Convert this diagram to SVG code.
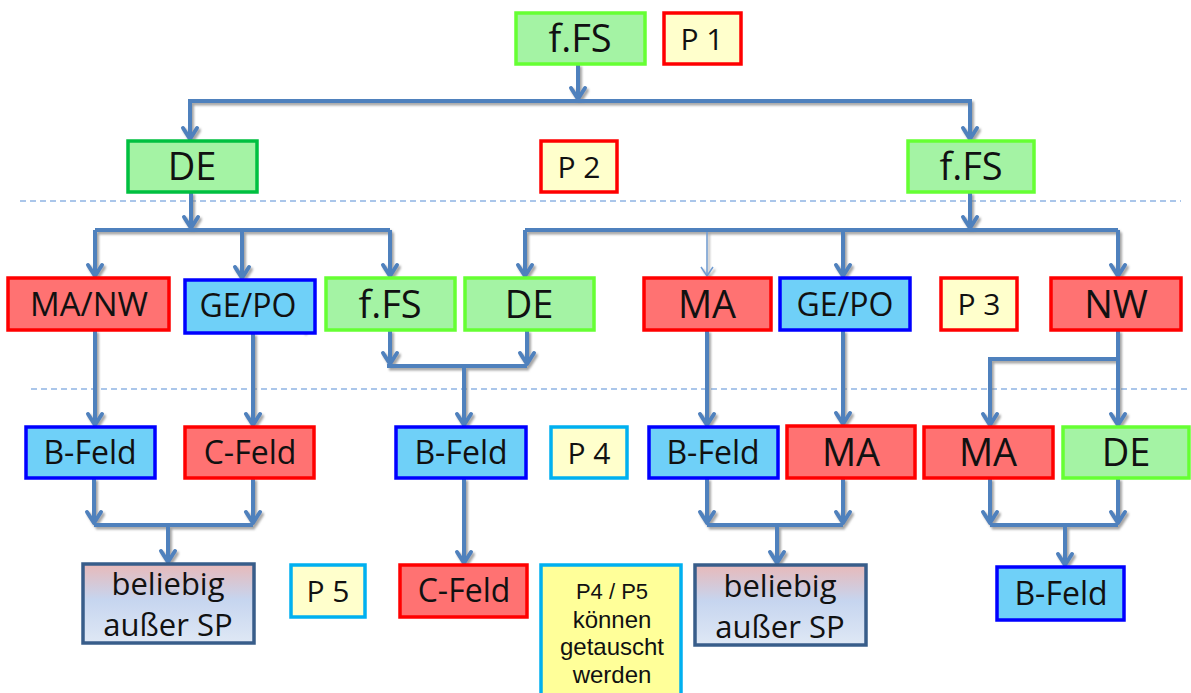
<svg xmlns="http://www.w3.org/2000/svg" width="1191" height="693" viewBox="0 0 1191 693">
<defs>
<style>
.t{font-family:"Open Sans","Noto Sans","Liberation Sans",sans-serif;fill:#111;text-anchor:middle}
.tn{font-family:"Liberation Sans","Open Sans",sans-serif;fill:#111;text-anchor:middle}
.g{fill:#a4f3a4;stroke:#66ff33;stroke-width:3.5}
.gd{fill:#a4f3a4;stroke:#00c040;stroke-width:3.5}
.r{fill:#ff7272;stroke:#ff0000;stroke-width:3.5}
.b{fill:#6fd0f8;stroke:#0000ff;stroke-width:3.5}
.py{fill:#ffffcc;stroke:#ff0000;stroke-width:3.5}
.pc{fill:#ffffcc;stroke:#00b0f0;stroke-width:3.5}
.n{fill:#ffff99;stroke:#00b0f0;stroke-width:3.5}
.bl{fill:url(#grad);stroke:#385d8a;stroke-width:3.5}
.c{fill:none;stroke:#4f81bd;stroke-width:4;stroke-linejoin:miter}
.ct{fill:none;stroke:#6f9bd1;stroke-width:1.5}
.d{fill:none;stroke:#8eb4e3;stroke-width:1.5;stroke-dasharray:6 4}
</style>
<linearGradient id="grad" x1="0" y1="0" x2="0" y2="1">
<stop offset="0" stop-color="#e8b9b9"/>
<stop offset="0.45" stop-color="#c6d5ef"/>
<stop offset="1" stop-color="#dfe8f5"/>
</linearGradient>
<marker id="ah" markerUnits="userSpaceOnUse" viewBox="-14 -10 18 20" markerWidth="18" markerHeight="20" refX="0" refY="0" orient="auto">
<path d="M-11,-7 L0,0 L-11,7" fill="none" stroke="#4f81bd" stroke-width="4" stroke-linecap="round" stroke-linejoin="round"/>
</marker>
<marker id="aht" markerUnits="userSpaceOnUse" viewBox="-12 -8 14 16" markerWidth="14" markerHeight="16" refX="0" refY="0" orient="auto">
<path d="M-9,-6 L0,0 L-9,6" fill="none" stroke="#6f9bd1" stroke-width="1.5"/>
</marker>
<filter id="sh" x="-10%" y="-10%" width="120%" height="120%">
<feDropShadow dx="2" dy="2.5" stdDeviation="1.2" flood-color="#7f7f7f" flood-opacity="0.7"/>
</filter>
</defs>
<rect width="1191" height="693" fill="#ffffff"/>

<g id="separators">
<line class="d" x1="20" y1="201" x2="1181" y2="201"/>
<line class="d" x1="31" y1="389" x2="1191" y2="389"/>
</g>

<g id="connectors" filter="url(#sh)">
<path class="c" d="M578,64 V99" marker-end="url(#ah)"/>
<path class="c" d="M578,101 H190 V139" marker-end="url(#ah)"/>
<path class="c" d="M578,101 H970 V139" marker-end="url(#ah)"/>
<path class="c" d="M191,192 V228" marker-end="url(#ah)"/>
<path class="c" d="M95,230 H390"/>
<path class="c" d="M95,230 V276" marker-end="url(#ah)"/>
<path class="c" d="M242,230 V278" marker-end="url(#ah)"/>
<path class="c" d="M390,230 V276" marker-end="url(#ah)"/>
<path class="c" d="M970,192 V228" marker-end="url(#ah)"/>
<path class="c" d="M525,230 H1118"/>
<path class="c" d="M525,230 V276" marker-end="url(#ah)"/>
<path class="c" d="M843,230 V276" marker-end="url(#ah)"/>
<path class="c" d="M1118,230 V276" marker-end="url(#ah)"/>
<path class="ct" d="M707,232 V276" marker-end="url(#aht)"/>
<path class="ct" d="M304,295 V332" marker-end="url(#aht)"/>
<path class="c" d="M95,330 V425" marker-end="url(#ah)"/>
<path class="c" d="M253,333 V425" marker-end="url(#ah)"/>
<path class="c" d="M390,330 V364" marker-end="url(#ah)"/>
<path class="c" d="M527,330 V364" marker-end="url(#ah)"/>
<path class="c" d="M387,366 H527"/>
<path class="c" d="M464,366 V425" marker-end="url(#ah)"/>
<path class="c" d="M707,330 V425" marker-end="url(#ah)"/>
<path class="c" d="M843,330 V424" marker-end="url(#ah)"/>
<path class="c" d="M1118,330 V425" marker-end="url(#ah)"/>
<path class="c" d="M1118,359 H990 V425" marker-end="url(#ah)"/>
<path class="c" d="M94,478 V523" marker-end="url(#ah)"/>
<path class="c" d="M253,478 V523" marker-end="url(#ah)"/>
<path class="c" d="M94,525 H253"/>
<path class="c" d="M168,525 V562" marker-end="url(#ah)"/>
<path class="c" d="M464,478 V563" marker-end="url(#ah)"/>
<path class="c" d="M707,478 V523" marker-end="url(#ah)"/>
<path class="c" d="M843,478 V523" marker-end="url(#ah)"/>
<path class="c" d="M707,525 H843"/>
<path class="c" d="M777,525 V563" marker-end="url(#ah)"/>
<path class="c" d="M990,478 V523" marker-end="url(#ah)"/>
<path class="c" d="M1118,478 V523" marker-end="url(#ah)"/>
<path class="c" d="M990,525 H1118"/>
<path class="c" d="M1065,525 V565" marker-end="url(#ah)"/>
</g>

<g id="n-top-ffs"><rect class="g" x="516" y="13" width="129" height="51"/><text class="t" x="580" y="52" font-size="38">f.FS</text></g>
<g id="n-p1"><rect class="py" x="664" y="13" width="77" height="51"/><text class="t" x="702" y="50" font-size="30">P 1</text></g>
<g id="n-de-top"><rect class="gd" x="128" y="141" width="129" height="51"/><text class="t" x="192" y="180" font-size="38">DE</text></g>
<g id="n-p2"><rect class="py" x="541" y="141" width="76" height="51"/><text class="t" x="579" y="178" font-size="30">P 2</text></g>
<g id="n-ffs-right"><rect class="g" x="908" y="141" width="126" height="51"/><text class="t" x="971" y="180" font-size="38">f.FS</text></g>

<g id="n-manw"><rect class="r" x="8" y="278" width="161" height="52"/><text class="t" x="89" y="316" font-size="33">MA/NW</text></g>
<g id="n-gepo-left"><rect class="b" x="185" y="280" width="130" height="53"/><text class="t" x="248" y="317" font-size="32">GE/PO</text></g>
<g id="n-ffs-mid"><rect class="g" x="326" y="278" width="129" height="52"/><text class="t" x="390" y="318" font-size="38">f.FS</text></g>
<g id="n-de-mid"><rect class="g" x="465" y="278" width="129" height="52"/><text class="t" x="529" y="318" font-size="38">DE</text></g>
<g id="n-ma-mid"><rect class="r" x="644" y="278" width="127" height="52"/><text class="t" x="707" y="318" font-size="38">MA</text></g>
<g id="n-gepo-right"><rect class="b" x="780" y="278" width="130" height="52"/><text class="t" x="845" y="316" font-size="32">GE/PO</text></g>
<g id="n-p3"><rect class="py" x="941" y="278" width="76" height="52"/><text class="t" x="979" y="315" font-size="30">P 3</text></g>
<g id="n-nw"><rect class="r" x="1051" y="278" width="130" height="52"/><text class="t" x="1116" y="318" font-size="38">NW</text></g>

<g id="n-bfeld-1"><rect class="b" x="26" y="427" width="129" height="51"/><text class="t" x="90" y="464" font-size="32">B-Feld</text></g>
<g id="n-cfeld-1"><rect class="r" x="185" y="427" width="129" height="51"/><text class="t" x="250" y="464" font-size="32">C-Feld</text></g>
<g id="n-bfeld-2"><rect class="b" x="396" y="427" width="130" height="51"/><text class="t" x="461" y="464" font-size="32">B-Feld</text></g>
<g id="n-p4"><rect class="pc" x="551" y="427" width="76" height="51"/><text class="t" x="589" y="464" font-size="30">P 4</text></g>
<g id="n-bfeld-3"><rect class="b" x="649" y="427" width="129" height="51"/><text class="t" x="713" y="464" font-size="32">B-Feld</text></g>
<g id="n-ma-2"><rect class="r" x="787" y="426" width="128" height="52"/><text class="t" x="851" y="466" font-size="38">MA</text></g>
<g id="n-ma-3"><rect class="r" x="924" y="427" width="129" height="51"/><text class="t" x="988" y="466" font-size="38">MA</text></g>
<g id="n-de-3"><rect class="g" x="1063" y="427" width="126" height="51"/><text class="t" x="1126" y="466" font-size="38">DE</text></g>

<g id="n-beliebig-1"><rect class="bl" x="83" y="564" width="171" height="79"/><text class="t" x="168" y="595" font-size="31">beliebig</text><text class="t" x="168" y="636" font-size="31">außer SP</text></g>
<g id="n-p5"><rect class="pc" x="291" y="565" width="74" height="52"/><text class="t" x="328" y="602" font-size="30">P 5</text></g>
<g id="n-cfeld-2"><rect class="r" x="400" y="565" width="127" height="52"/><text class="t" x="464" y="602" font-size="32">C-Feld</text></g>
<g id="n-note"><rect class="n" x="541" y="565" width="140" height="140"/><text class="tn" x="612" y="599" font-size="22">P4 / P5</text><text class="tn" x="612" y="628" font-size="24">können</text><text class="tn" x="612" y="655" font-size="24">getauscht</text><text class="tn" x="612" y="683" font-size="24">werden</text></g>
<g id="n-beliebig-2"><rect class="bl" x="695" y="565" width="171" height="80"/><text class="t" x="780" y="597" font-size="31">beliebig</text><text class="t" x="780" y="638" font-size="31">außer SP</text></g>
<g id="n-bfeld-4"><rect class="b" x="997" y="567" width="127" height="53"/><text class="t" x="1061" y="605" font-size="32">B-Feld</text></g>
</svg>
